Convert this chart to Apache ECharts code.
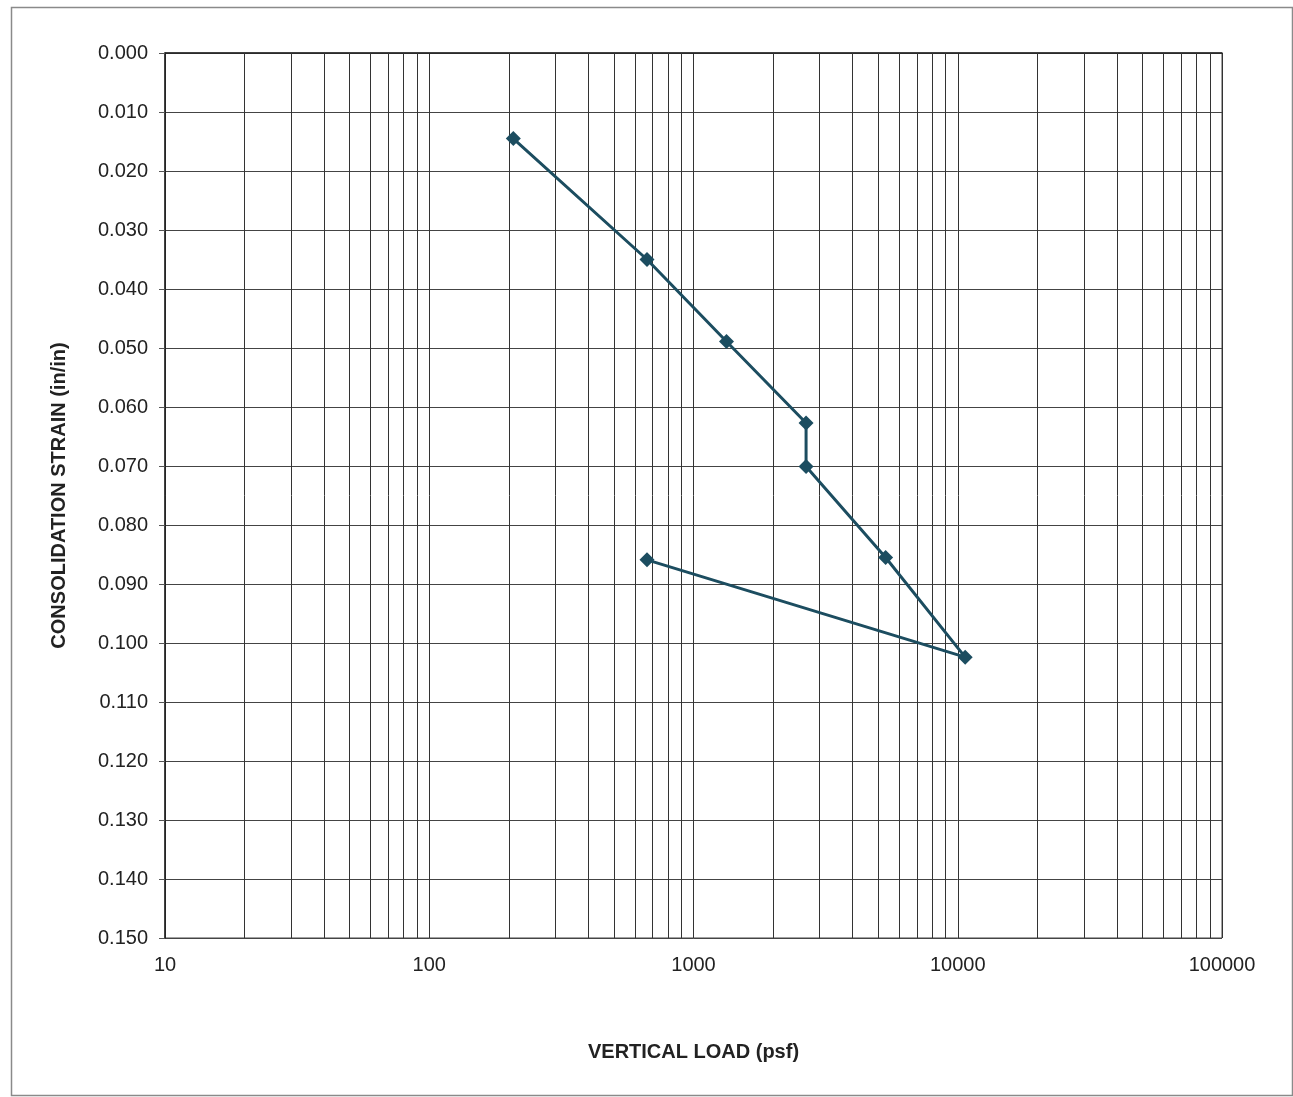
<!DOCTYPE html>
<html>
<head>
<meta charset="utf-8">
<script src="https://cdn.jsdelivr.net/npm/echarts@6/dist/echarts.min.js"></script>
<style>
html,body{margin:0;padding:0;background:#fff;overflow:hidden;}
#chart{width:1293px;height:1097px;}
</style>
</head>
<body>
<div id="chart"></div>
<script>
// Data
var verticalLoad = [208, 667, 1333, 2667, 2667, 5333, 10667, 667];      // psf
var strain = [0.0145, 0.0350, 0.0489, 0.0627, 0.0701, 0.0855, 0.1024, 0.0859]; // in/in
var xTickLabels = [10, 100, 1000, 10000, 100000];
var yMin = 0, yMax = 0.15, yStep = 0.01;
var xTitle = 'VERTICAL LOAD (psf)';
var yTitle = 'CONSOLIDATION STRAIN (in/in)';

// minor vertical gridlines at 2..9 × each decade
var minorGrid = [];
for (var d = 0; d < xTickLabels.length - 1; d++) {
  for (var m = 2; m <= 9; m++) minorGrid.push({ xAxis: xTickLabels[d] * m });
}

var points = verticalLoad.map(function (v, i) { return [v, strain[i]]; });

var FONT = 'Liberation Sans, Arial, sans-serif';
var chart = echarts.init(document.getElementById('chart'));
chart.setOption({
  animation: false,
  backgroundColor: '#fff',
  graphic: [{
    type: 'rect', left: 9, top: 5, silent: true,
    shape: { width: 1281, height: 1088 },
    style: { fill: 'none', stroke: '#8a8a8a', lineWidth: 1.5 }
  }],
  grid: {
    left: 165, top: 53, right: 71, bottom: 159,
    show: true, borderColor: '#444', borderWidth: 1
  },
  xAxis: {
    type: 'log', logBase: 10, min: 10, max: 100000,
    name: xTitle, nameLocation: 'middle', nameGap: 104,
    nameTextStyle: { fontFamily: FONT, fontWeight: 'bold', fontSize: 20, color: '#222' },
    axisLine: { show: true, lineStyle: { color: '#222', width: 1.5 } },
    axisTick: { show: false },
    axisLabel: {
      fontFamily: FONT, fontSize: 20, color: '#222', margin: 17,
      formatter: function (v) { return String(Math.round(v)); }
    },
    splitLine: { show: true, lineStyle: { color: '#333', width: 1 } },
    minorTick: { show: false }, minorSplitLine: { show: false }
  },
  yAxis: {
    type: 'value', inverse: true, min: yMin, max: yMax, interval: yStep,
    name: yTitle, nameLocation: 'middle', nameGap: 96, nameRotate: 90,
    nameTextStyle: { fontFamily: FONT, fontWeight: 'bold', fontSize: 20, color: '#222' },
    axisLine: { show: true, lineStyle: { color: '#222', width: 1.5 } },
    axisTick: { show: true, inside: false, length: 6, lineStyle: { color: '#555' } },
    axisLabel: {
      fontFamily: FONT, fontSize: 20, color: '#222', margin: 17,
      formatter: function (v) { return v.toFixed(3); }
    },
    splitLine: { show: true, lineStyle: { color: '#444', width: 1 } }
  },
  series: [{
    type: 'line',
    data: points,
    symbol: 'diamond', symbolSize: 15,
    lineStyle: { color: '#1c4d60', width: 3 },
    itemStyle: { color: '#1c4d60' },
    z: 5,
    markLine: {
      silent: true, symbol: 'none', animation: false,
      label: { show: false },
      lineStyle: { color: '#333', width: 1, type: 'solid' },
      data: minorGrid
    }
  }]
});
</script>
</body>
</html>
